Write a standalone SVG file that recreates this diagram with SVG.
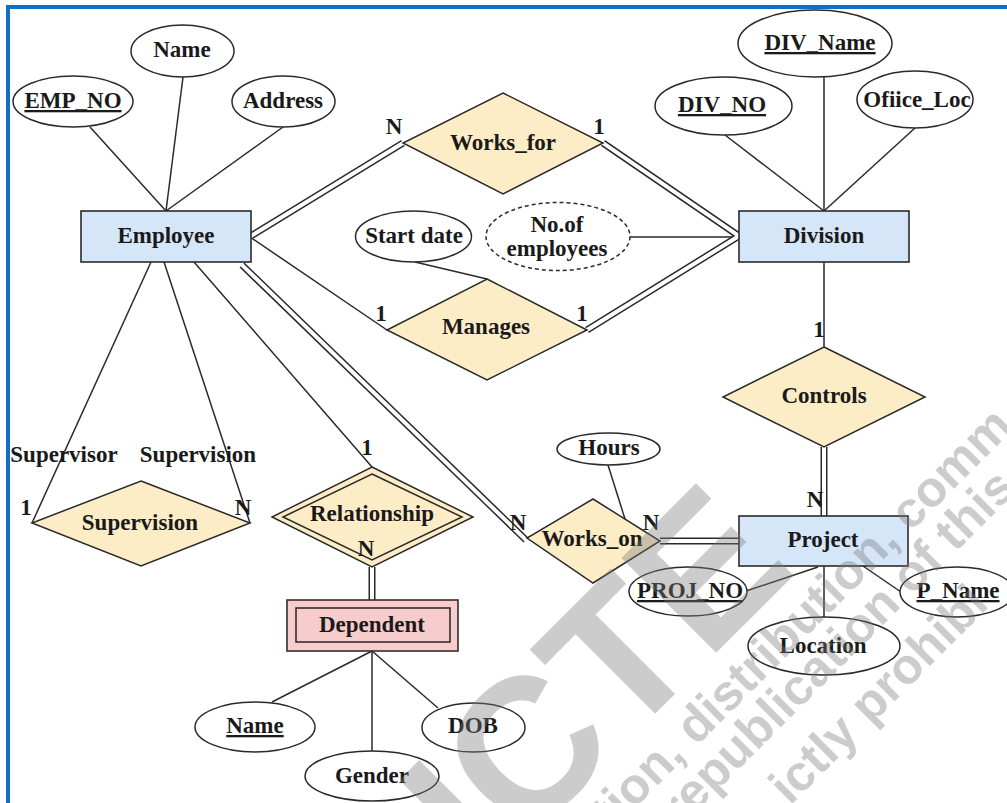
<svg xmlns="http://www.w3.org/2000/svg" width="1007" height="803" viewBox="0 0 1007 803">
<defs>
<style>
text{font-family:"Liberation Serif","Times New Roman",serif;font-weight:bold;font-size:23px;fill:#1a1a1a;text-anchor:middle}
.u{text-decoration:underline}
.ent{fill:#d6e6f9;stroke:#2a2a2a;stroke-width:1.6}
.rel{fill:#fdedc6;stroke:#2a2a2a;stroke-width:1.5}
.att{fill:#ffffff;stroke:#2a2a2a;stroke-width:1.5}
.ln{stroke:#2a2a2a;stroke-width:1.5;fill:none}
.dbo{stroke:#2a2a2a;stroke-width:7;fill:none}
.dbi{stroke:#ffffff;stroke-width:4;fill:none}
text.wm{font-family:"Liberation Sans",Arial,sans-serif;font-weight:bold;fill:#7a7a7a;text-anchor:start}
text.wmbig{font-size:195px}
text.wmsm{font-size:50px}
</style>
</defs>
<rect x="0" y="0" width="1007" height="803" fill="#ffffff"/>
<path d="M8,803 V7 H1007" fill="none" stroke="#0f6fc4" stroke-width="4"/>

<g id="connectors">
<line class="ln" x1="90" y1="127" x2="166" y2="211"/>
<line class="ln" x1="183" y1="77" x2="166" y2="211"/>
<line class="ln" x1="283" y1="127" x2="166" y2="211"/>
<line class="ln" x1="725" y1="135" x2="824" y2="211"/>
<line class="ln" x1="824" y1="77" x2="824" y2="211"/>
<line class="ln" x1="915" y1="128" x2="824" y2="211"/>
<line class="ln" x1="250" y1="237" x2="387" y2="330"/>
<line class="ln" x1="630" y1="237" x2="739" y2="237"/>
<line class="ln" x1="415" y1="262" x2="487" y2="279"/>
<line class="ln" x1="824" y1="262" x2="824" y2="347"/>
<line class="ln" x1="151" y1="262" x2="32" y2="523"/>
<line class="ln" x1="164" y1="262" x2="250" y2="523"/>
<line class="ln" x1="194" y1="262" x2="372" y2="467"/>
<line class="ln" x1="608" y1="465" x2="625" y2="519"/>
<line class="ln" x1="372" y1="651" x2="272" y2="702"/>
<line class="ln" x1="372" y1="651" x2="372" y2="752"/>
<line class="ln" x1="372" y1="651" x2="438" y2="708"/>
<line class="ln" x1="818" y1="567" x2="746" y2="591"/>
<line class="ln" x1="824" y1="566" x2="824" y2="617"/>
<line class="ln" x1="863" y1="566" x2="901" y2="592"/>
<g>
<path class="dbo" d="M251,236 L403,143 M603,143 L739,236 M587,330 L739,236 M242,265 L526,540 M660,541 L739,541 M824,447 L824,516 M372,567 L372,600"/>
<path class="dbi" d="M249,237.2 L405,141.8 M601,141.6 L741,237.4 M585,331.2 L741,234.8 M240.6,263.6 L527.4,541.4 M658,541 L741,541 M824,445 L824,518 M372,565 L372,602"/>
</g>
</g>

<g id="employee"><rect class="ent" x="81" y="211" width="170" height="51"/><text x="166" y="243">Employee</text></g>
<g id="division"><rect class="ent" x="739" y="211" width="170" height="51"/><text x="824" y="243">Division</text></g>
<g id="project"><rect class="ent" x="739" y="516" width="169" height="50"/><text x="823" y="547">Project</text></g>
<g id="dependent"><rect x="287" y="600" width="171" height="51" fill="#f6cccc" stroke="#3a2a2a" stroke-width="1.6"/><rect x="296" y="608" width="154" height="34" fill="none" stroke="#3a2a2a" stroke-width="1.6"/><text x="372" y="632">Dependent</text></g>

<g id="works_for"><polygon class="rel" points="503,93 603,143 503,194 403,143"/><text x="503" y="150">Works_for</text></g>
<g id="manages"><polygon class="rel" points="487,279 587,330 487,380 387,330"/><text x="486" y="334">Manages</text></g>
<g id="controls"><polygon class="rel" points="824,347 925,397 824,447 723,397"/><text x="824" y="403">Controls</text></g>
<g id="supervision"><polygon class="rel" points="141,481 250,523 141,566 32,523"/><text x="140" y="530">Supervision</text></g>
<g id="relationship"><polygon class="rel" points="372,467 473,517 372,567 272,517"/><polygon points="372,474 462,517 372,560 283,517" fill="none" stroke="#2a2a2a" stroke-width="1.5"/><text x="372" y="521">Relationship</text></g>
<g id="works_on"><polygon class="rel" points="593,499 660,541 593,583 527,538"/><text x="592" y="546">Works_on</text></g>

<g id="attr_name"><ellipse class="att" cx="182.5" cy="51" rx="51.5" ry="26"/><text x="182" y="57">Name</text></g>
<g id="attr_emp_no"><ellipse class="att" cx="73" cy="101.5" rx="60" ry="25.5"/><text class="u" x="73" y="108">EMP_NO</text></g>
<g id="attr_address"><ellipse class="att" cx="283.5" cy="101.5" rx="51.5" ry="25.5"/><text x="283" y="108">Address</text></g>
<g id="attr_div_name"><ellipse class="att" cx="815" cy="43.5" rx="77" ry="33.5"/><text class="u" x="820" y="50">DIV_Name</text></g>
<g id="attr_div_no"><ellipse class="att" cx="723.5" cy="106" rx="68.5" ry="29"/><text class="u" x="722" y="112">DIV_NO</text></g>
<g id="attr_office_loc"><ellipse class="att" cx="915" cy="99.5" rx="58" ry="28.5"/><text x="917" y="107">Ofiice_Loc</text></g>
<g id="attr_start_date"><ellipse class="att" cx="413.5" cy="236.5" rx="58" ry="25.5"/><text x="414" y="243">Start date</text></g>
<g id="attr_no_of_employees"><ellipse cx="558" cy="236.5" rx="72" ry="34" fill="#ffffff" stroke="#2a2a2a" stroke-width="1.5" stroke-dasharray="4,3"/><text x="557" y="232">No.of</text><text x="557" y="256">employees</text></g>
<g id="attr_hours"><ellipse class="att" cx="608.5" cy="449" rx="51.5" ry="16"/><text x="609" y="455">Hours</text></g>
<g id="attr_proj_no"><ellipse class="att" cx="688" cy="591.5" rx="59" ry="24.5"/><text class="u" x="690" y="598">PROJ_NO</text></g>
<g id="attr_location"><ellipse class="att" cx="824" cy="646" rx="76" ry="29"/><text x="823" y="653">Location</text></g>
<g id="attr_p_name"><ellipse class="att" cx="957" cy="592" rx="57" ry="25"/><text class="u" x="958" y="598">P_Name</text></g>
<g id="attr_dep_name"><ellipse class="att" cx="255" cy="727" rx="60" ry="25"/><text class="u" x="255" y="733">Name</text></g>
<g id="attr_gender"><ellipse class="att" cx="372" cy="776" rx="67" ry="25"/><text x="372" y="783">Gender</text></g>
<g id="attr_dob"><ellipse class="att" cx="473.5" cy="727.5" rx="51.5" ry="24.5"/><text x="473" y="733">DOB</text></g>

<g id="labels">
<text x="394" y="134">N</text>
<text x="599" y="134">1</text>
<text x="381" y="321">1</text>
<text x="582" y="321">1</text>
<text x="819" y="337">1</text>
<text x="815" y="507">N</text>
<text x="518" y="530">N</text>
<text x="651" y="530">N</text>
<text x="367" y="455">1</text>
<text x="366" y="556">N</text>
<text x="26" y="515">1</text>
<text x="243" y="515">N</text>
<text x="64" y="462">Supervisor</text>
<text x="198" y="462">Supervision</text>
</g>

<g id="watermark" opacity="0.38">
<text class="wm wmbig" transform="translate(485,884) rotate(-45)">ICTE</text>
<text class="wm wmsm" transform="translate(612,831) rotate(-45)">tion, distribution, comm</text>
<text class="wm wmsm" transform="translate(680,828) rotate(-45)">republication of this</text>
<text class="wm wmsm" transform="translate(790,806) rotate(-45)">ictly prohibi</text>
</g>
</svg>
